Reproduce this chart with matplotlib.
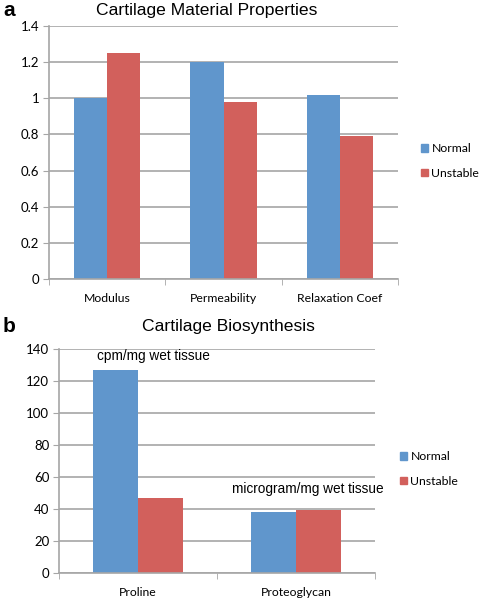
import matplotlib
matplotlib.use("Agg")
import matplotlib.pyplot as plt
from matplotlib.patches import Patch
import numpy as np

cats_a = ["Modulus", "Permeability", "Relaxation Coef"]
normal_a = [1.0, 1.2, 1.02]
unstable_a = [1.25, 0.98, 0.79]
yticks_a = [0, 0.2, 0.4, 0.6, 0.8, 1.0, 1.2, 1.4]
ylabels_a = ["0", "0.2", "0.4", "0.6", "0.8", "1", "1.2", "1.4"]

cats_b = ["Proline", "Proteoglycan"]
normal_b = [127, 38]
unstable_b = [47, 39]
yticks_b = [0, 20, 40, 60, 80, 100, 120, 140]

BLUE = "#6096CC"
RED = "#D2605C"
GRID = "#A6A6A6"
TICKFONT = "Lato"
TITLEFONT = "Liberation Sans"

W, H = 480, 599
fig = plt.figure(figsize=(W / 100, H / 100), dpi=100)


def px_axes(l, t, r, b):
    return fig.add_axes([l / W, 1 - b / H, (r - l) / W, (b - t) / H])


def style(ax, cats, yticks, ylabels, ymax):
    n = len(cats)
    ax.set_xlim(-0.5, n - 0.5)
    ax.set_ylim(0, ymax)
    ax.set_yticks(yticks)
    ax.set_yticklabels(ylabels, fontsize=9.5, family=TICKFONT)
    ax.set_xticks(np.arange(n))
    ax.set_xticklabels(cats, fontsize=8.8, family=TICKFONT)
    ax.tick_params(axis="x", length=0, pad=10)
    ax.set_xticks(np.arange(n + 1) - 0.5, minor=True)
    ax.tick_params(axis="x", which="minor", length=4, color=GRID, direction="out")
    ax.tick_params(axis="y", length=4, color=GRID, pad=3)
    ax.grid(axis="y", color=GRID, linewidth=1.2)
    ax.set_axisbelow(True)
    for s in ["top", "right"]:
        ax.spines[s].set_visible(False)
    for s in ["left", "bottom"]:
        ax.spines[s].set_color(GRID)
        ax.spines[s].set_linewidth(1.2)


def legend(handles, x, y):
    fig.legend(handles=handles, loc="center left", bbox_to_anchor=(x / W, 1 - y / H),
               frameon=False, borderpad=0, borderaxespad=0, handlelength=0.55,
               handleheight=0.55, handletextpad=0.3, labelspacing=1.1,
               prop={"family": TICKFONT, "size": 8.8})


bw = 0.285

# Panel a
axa = px_axes(49, 26, 398, 279)
x = np.arange(len(cats_a))
axa.bar(x - bw / 2, normal_a, bw, color=BLUE)
axa.bar(x + bw / 2, unstable_a, bw, color=RED)
style(axa, cats_a, yticks_a, ylabels_a, 1.4)
fig.text(207 / W, 1 - 11 / H, "Cartilage Material Properties", ha="center", va="center",
         fontsize=12.6, family=TITLEFONT)
fig.text(3 / W, 1 - 11 / H, "a", ha="left", va="center", fontsize=15, fontweight="bold",
         family=TITLEFONT)

handles = [Patch(color=BLUE, label="Normal"), Patch(color=RED, label="Unstable")]
legend(handles, 421, 161)

# Panel b
axb = px_axes(59, 349.3, 375, 572.7)
x = np.arange(len(cats_b))
axb.bar(x - bw / 2, normal_b, bw, color=BLUE)
axb.bar(x + bw / 2, unstable_b, bw, color=RED)
style(axb, cats_b, yticks_b, [str(v) for v in yticks_b], 140)
axb.text(0.095, 135.5, "cpm/mg wet tissue", ha="center", va="center", fontsize=9.8,
         family=TITLEFONT)
axb.text(1.076, 52.4, "microgram/mg wet tissue", ha="center", va="center", fontsize=9.8,
         family=TITLEFONT)
fig.text(228 / W, 1 - 327 / H, "Cartilage Biosynthesis", ha="center", va="center",
         fontsize=12.6, family=TITLEFONT)
fig.text(3 / W, 1 - 327 / H, "b", ha="left", va="center", fontsize=15, fontweight="bold",
         family=TITLEFONT)
legend(handles, 400, 469)

fig.savefig("out.png", dpi=100, facecolor="white")
